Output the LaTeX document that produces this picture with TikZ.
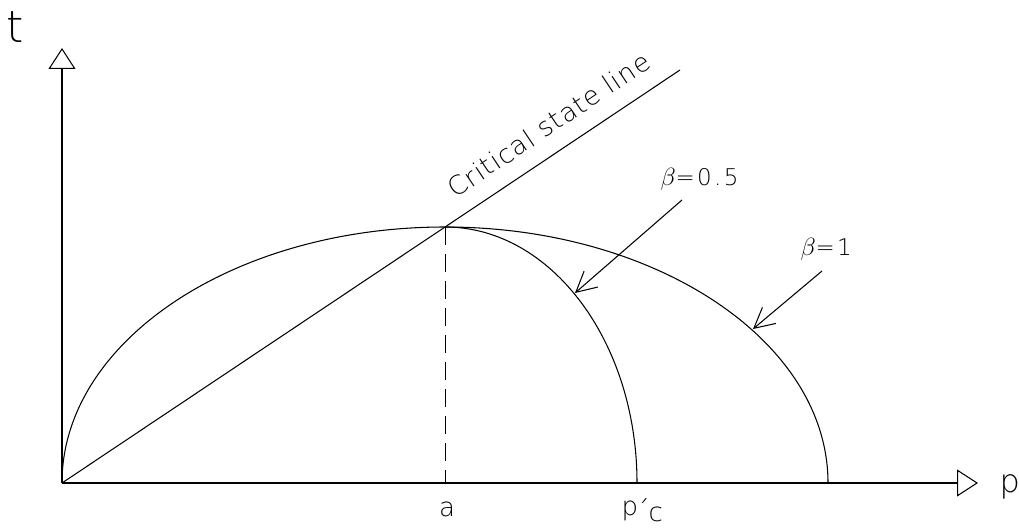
\documentclass[tikz,border=0pt]{standalone}
\usepackage{fontspec}
\setmainfont{DejaVu Sans ExtraLight}
\newfontfamily\spacedfont{DejaVu Sans ExtraLight}[LetterSpace=4]
\newfontfamily\widefont{DejaVu Sans ExtraLight}[LetterSpace=10]
\usetikzlibrary{arrows.meta}
\begin{document}
\begin{tikzpicture}[x=1pt,y=-1pt,line width=1.05pt,
  axisarrow/.style={-{Triangle[open,length=21pt,width=27pt,line width=1.05pt]}},
  pointer/.style={-{Straight Barb[length=20pt,width=21pt,line width=1.05pt]}},
  guide/.style={line width=0.9pt,dash pattern=on 18pt off 9pt},
  biglbl/.style={inner sep=0pt,font=\fontsize{44}{50}\selectfont},
  plbl/.style={inner sep=0pt,font=\fontsize{32}{36}\selectfont},
  lbl/.style={inner sep=0pt,font=\fontsize{26}{30}\selectfont},
  blbl/.style={inner sep=0pt,font=\widefont\fontsize{23}{26}\selectfont},
  csllbl/.style={inner sep=0pt,font=\spacedfont\fontsize{26}{30}\selectfont}]
\useasboundingbox (0,0) rectangle (1019,529);
% key points
\coordinate (O) at (62,483);
\coordinate (ytip) at (62,48);
\coordinate (xtip) at (978,483);
\coordinate (A) at (445,227);
\coordinate (Aa) at (445,483);
\coordinate (CSLend) at (680,70);
\coordinate (h05) at (682,200);
\coordinate (t05) at (575,293);
\coordinate (h1) at (822,271);
\coordinate (t1) at (753,329);
% axes
\draw[axisarrow] (O) -- (ytip);
\draw[axisarrow] (O) -- (xtip);
% critical state line
\draw (O) -- (CSLend);
% yield curves
\draw (O) arc[start angle=180,end angle=0,x radius=383pt,y radius=256pt];
\draw (A) arc[start angle=90,end angle=0,x radius=192pt,y radius=256pt];
% dashed guide
\draw[guide] (A) -- (Aa);
% pointers
\draw[pointer] (h05) -- (t05);
\draw[pointer] (h1) -- (t1);
% labels
\node[biglbl] (tl) at (15,27) {t};
\node[plbl,anchor=base west] (pl) at (999,492) {p};
\node[lbl] (al) at (447,509) {a};
\node[lbl,anchor=base west] (pcl) at (621,515) {p\kern-1pt\raisebox{-4pt}{´}\kern-1pt\raisebox{-6pt}{c}};
\node[blbl,anchor=base west] (b05) at (660,186) {{\fontsize{34}{38}\selectfont$\beta$}=0.5};
\node[blbl,anchor=base west] (b1) at (800,255) {{\fontsize{34}{38}\selectfont$\beta$}=1};
\node[csllbl,rotate=33.75,anchor=base west] (cslt) at (455,199) {Critical state line};
\end{tikzpicture}
\end{document}
